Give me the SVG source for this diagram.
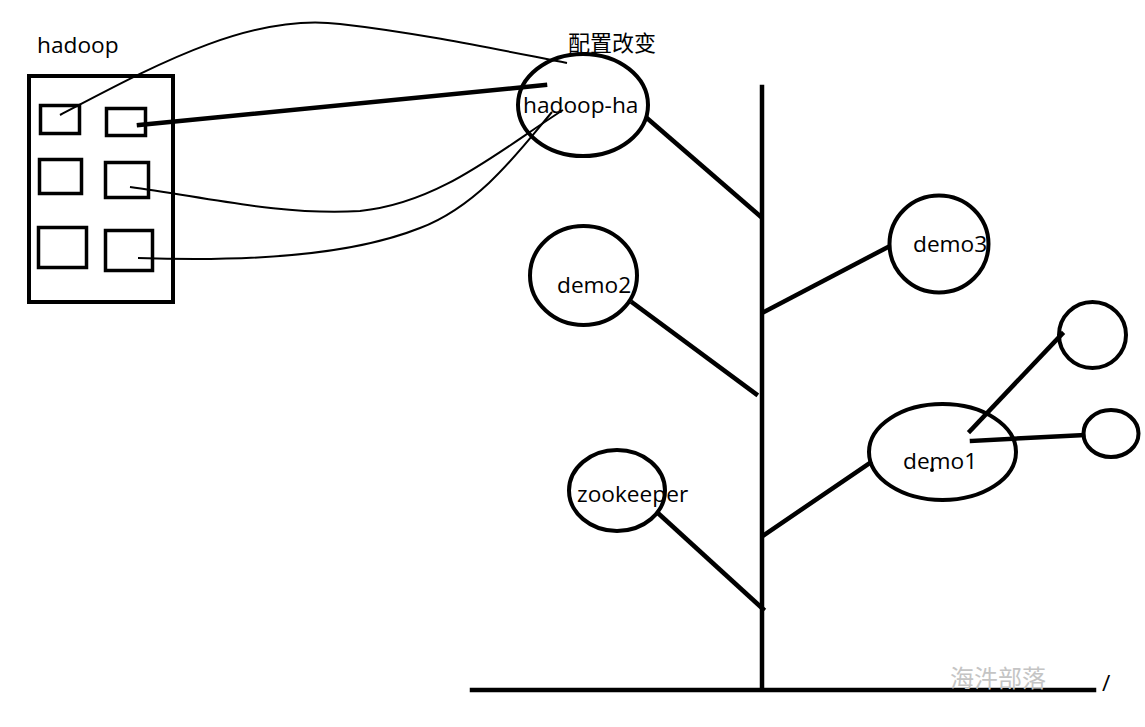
<svg xmlns="http://www.w3.org/2000/svg" width="1145" height="727" viewBox="0 0 1145 727">
<style>
.o{fill:none;stroke:#000;stroke-width:4}
.b{fill:none;stroke:#000;stroke-width:3.5}
.t{font-family:"Open Sans","Noto Sans",sans-serif;font-size:22.7px;fill:#000}
.c{font-family:"Open Sans","Noto Sans CJK SC",sans-serif;font-size:22px;fill:#000}
.w{font-family:"Noto Sans CJK SC",sans-serif;font-size:24px;fill:#c4c4c4}
.thick{fill:none;stroke:#000;stroke-width:4.5;stroke-linecap:square}
.thin{fill:none;stroke:#000;stroke-width:2}
</style>
<rect width="1145" height="727" fill="#fff"/>
<g id="connectors">
<line class="thick" x1="762" y1="87" x2="762" y2="688"/>
<line class="thick" x1="472" y1="690" x2="1094" y2="690"/>
<line class="thick" x1="648" y1="119" x2="760" y2="216"/>
<line class="thick" x1="764" y1="312" x2="888" y2="247"/>
<line class="thick" x1="633" y1="303" x2="756" y2="394"/>
<line class="thick" x1="764" y1="535" x2="870" y2="463"/>
<line class="thick" x1="659" y1="514" x2="763" y2="609"/>
<line class="thick" x1="970" y1="431" x2="1062" y2="334"/>
<line class="thick" x1="972" y1="441" x2="1083" y2="435"/>
<line class="thick" x1="139" y1="125" x2="545" y2="85"/>
<path class="thin" d="M60,115 C150,68 250,12 340,24 C420,33 500,50 567,63"/>
<path class="thin" d="M130,187 C200,196 280,216 360,211 C440,203 500,150 563,110"/>
<path class="thin" d="M138,258 C250,262 350,256 420,228 C480,205 520,150 552,112"/>
<circle cx="932" cy="470" r="2" fill="#000"/>
</g>
<g id="hadoop">
<rect class="o" x="29" y="76" width="144" height="226" stroke-width="4.5"/>
<rect class="b" x="40.5" y="105.5" width="39" height="28"/>
<rect class="b" x="106.5" y="108.5" width="39" height="27"/>
<rect class="b" x="39.5" y="159.5" width="42" height="34"/>
<rect class="b" x="105.5" y="162.5" width="43" height="35"/>
<rect class="b" x="38.5" y="227.5" width="48" height="40"/>
<rect class="b" x="105.5" y="230.5" width="47" height="40"/>
<text class="t" x="37" y="53">hadoop</text>
</g>
<g id="hadoop-ha">
<ellipse class="o" cx="583" cy="105" rx="65" ry="51"/>
<text class="t" x="523" y="113">hadoop-ha</text>
<text class="c" x="568" y="51">配置改变</text>
</g>
<g id="demo2">
<ellipse class="o" cx="583.5" cy="275.5" rx="53.5" ry="49.5"/>
<text class="t" x="557" y="293">demo2</text>
</g>
<g id="demo3">
<ellipse class="o" cx="939" cy="244" rx="49.5" ry="48.5"/>
<text class="t" x="913" y="252">demo3</text>
</g>
<g id="demo1">
<ellipse class="o" cx="942.5" cy="452" rx="73.5" ry="48"/>
<text class="t" x="903" y="469">demo1</text>
</g>
<g id="small-top">
<ellipse class="o" cx="1092.5" cy="335" rx="33.5" ry="33"/>
</g>
<g id="small-right">
<ellipse class="o" cx="1111" cy="433.5" rx="27.5" ry="23.5"/>
</g>
<g id="zookeeper">
<ellipse class="o" cx="617" cy="490.5" rx="48" ry="40.5"/>
<text class="t" x="577" y="502">zookeeper</text>
</g>
<text class="w" x="950" y="687">海汼部落</text>
<text class="t" x="1102" y="691">/</text>
</svg>
